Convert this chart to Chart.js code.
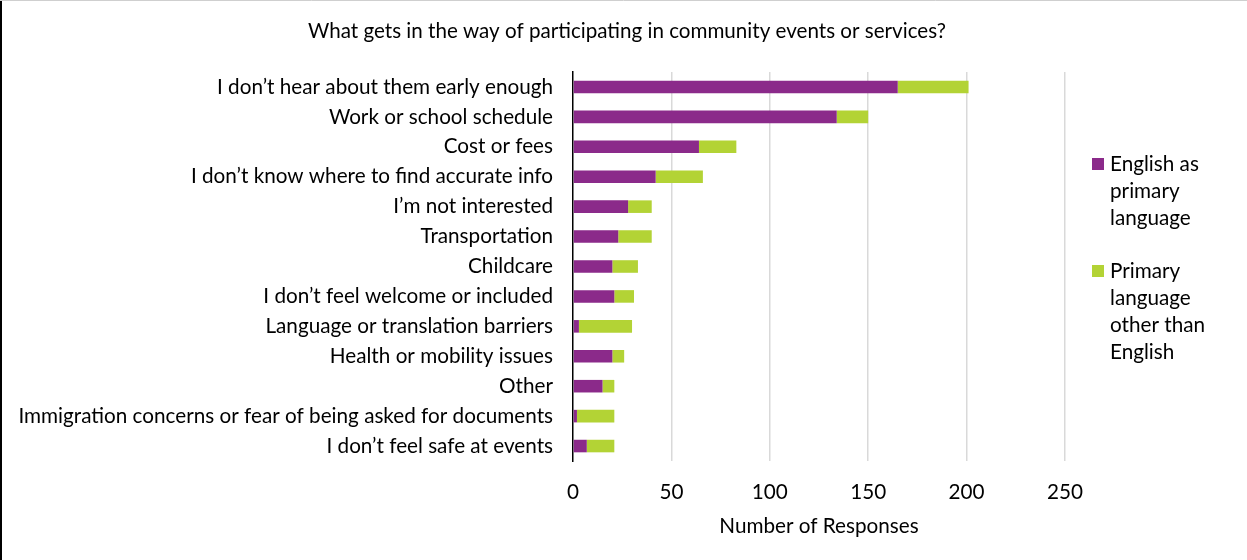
<!DOCTYPE html>
<html>
<head>
<meta charset="utf-8">
<script src="https://cdn.jsdelivr.net/npm/chart.js@4"></script>
<style>
  html, body { margin: 0; padding: 0; background: #fff; }
  #box { width: 1247px; height: 560px; }
</style>
</head>
<body>
<div id="box"><canvas id="barriers-chart"></canvas></div>
<script>
const chartTitle = 'What gets in the way of participating in community events or services?'
const axisTitle = 'Number of Responses'

const categories = [
    'I don’t hear about them early enough',
    'Work or school schedule',
    'Cost or fees',
    'I don’t know where to find accurate info',
    'I’m not interested',
    'Transportation',
    'Childcare',
    'I don’t feel welcome or included',
    'Language or translation barriers',
    'Health or mobility issues',
    'Other',
    'Immigration concerns or fear of being asked for documents',
    'I don’t feel safe at events'
]
const englishPrimary = [165, 134, 64, 42, 28, 23, 20, 21, 3, 20, 15, 2, 7]
const otherPrimary = [36, 16, 19, 24, 12, 17, 13, 10, 27, 6, 6, 19, 14]
const xTicks = [0, 50, 100, 150, 200, 250]

const seriesLabels = [
    ['English as', 'primary', 'language'],
    ['Primary', 'language', 'other than', 'English']
]
const purple = '#8B2A8A'
const green = '#B3D335'
const fontFamily = 'Lato, "Liberation Sans", sans-serif'
const fontSize = 20.7

// title, wrapped legend and the frame are painted by hand
const decorations = {
    id: 'decorations',
    afterDraw(chart) {
        const ctx = chart.ctx
        ctx.save()
        ctx.fillStyle = '#000'
        ctx.textBaseline = 'middle'
        ctx.textAlign = 'center'
        ctx.font = '20.6px ' + fontFamily
        ctx.fillText(chartTitle, 627, 31)

        ctx.textAlign = 'left'
        ctx.font = fontSize + 'px ' + fontFamily
        const starts = [164, 271]
        chart.data.datasets.forEach((ds, i) => {
            ctx.fillStyle = ds.backgroundColor
            ctx.fillRect(1092, starts[i] - 6, 12, 12)
            ctx.fillStyle = '#000'
            seriesLabels[i].forEach((line, j) => {
                ctx.fillText(line, 1110, starts[i] + j * 27)
            })
        })

        ctx.strokeStyle = '#000'
        ctx.lineWidth = 2
        ctx.beginPath()
        ctx.moveTo(1, 0)
        ctx.lineTo(1, 560)
        ctx.stroke()
        ctx.strokeStyle = '#cfcfcf'
        ctx.lineWidth = 1
        ctx.beginPath()
        ctx.moveTo(0, 0.5)
        ctx.lineTo(1247, 0.5)
        ctx.stroke()
        ctx.restore()
    }
}

document.addEventListener('DOMContentLoaded', () => {
    const canvas = document.getElementById('barriers-chart')

    new Chart(canvas, {
        type: 'bar',
        data: {
            labels: categories,
            datasets: [{
                label: seriesLabels[0].join(' '),
                data: englishPrimary,
                backgroundColor: purple,
                barPercentage: 0.42,
                categoryPercentage: 1
            }, {
                label: seriesLabels[1].join(' '),
                data: otherPrimary,
                backgroundColor: green,
                barPercentage: 0.42,
                categoryPercentage: 1
            }]
        },
        options: {
            indexAxis: 'y',
            responsive: true,
            maintainAspectRatio: false,
            animation: false,
            layout: {
                padding: { top: 72, right: 182, bottom: 0, left: 0 }
            },
            plugins: {
                legend: { display: false },
                title: { display: false },
                tooltip: { enabled: false }
            },
            scales: {
                x: {
                    stacked: true,
                    min: xTicks[0],
                    max: xTicks[xTicks.length - 1],
                    afterBuildTicks: scale => {
                        scale.ticks = xTicks.map(v => ({ value: v }))
                    },
                    afterFit: scale => { scale.height = 99 },
                    border: { display: false },
                    grid: {
                        color: c => c.tick && c.tick.value === 0 ? 'rgba(0,0,0,0)' : '#d9d9d9',
                        lineWidth: 1.5,
                        drawTicks: false
                    },
                    ticks: {
                        padding: 19,
                        color: '#000',
                        font: { family: fontFamily, size: fontSize }
                    },
                    title: {
                        display: true,
                        text: axisTitle,
                        color: '#000',
                        font: { family: fontFamily, size: fontSize },
                        padding: { top: 0, bottom: 21 }
                    }
                },
                y: {
                    stacked: true,
                    afterFit: scale => { scale.width = 573 },
                    grid: { display: false, drawTicks: false },
                    border: { display: true, color: '#000', width: 1.5 },
                    ticks: {
                        padding: 20,
                        color: '#000',
                        autoSkip: false,
                        font: { family: fontFamily, size: fontSize }
                    }
                }
            }
        },
        plugins: [decorations]
    })
})
</script>
</body>
</html>
